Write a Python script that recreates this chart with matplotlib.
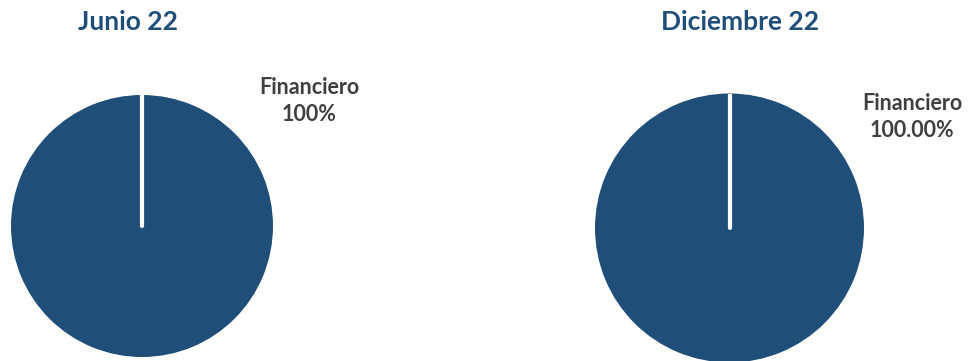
import matplotlib
matplotlib.use("Agg")
import matplotlib.pyplot as plt

# ── data ──────────────────────────────────────────────
categorias = ["Financiero"]
junio_22 = [100]
diciembre_22 = [100]
titulos = ["Junio 22", "Diciembre 22"]

plt.rcParams["font.family"] = ["Lato", "DejaVu Sans"]

W, H = 969, 361
fig = plt.figure(figsize=(W / 100, H / 100), dpi=100)

azul = "#1F4E79"
gris = "#404040"

def px_axes(cx, cy, r):
    return fig.add_axes([(cx - r) / W, (H - cy - r) / H, 2 * r / W, 2 * r / H])

# pie panels: (center x, center y, radius) in pixels
paneles = [
    (142, 226, 131, junio_22, "{:.0f}%", 309, 101, titulos[0], 128),
    (729.5, 228, 134.5, diciembre_22, "{:.2f}%", 912, 117, titulos[1], 740),
]

for cx, cy, r, vals, fmt, lx, ly, titulo, tx in paneles:
    ax = px_axes(cx, cy, r)
    wedges, _ = ax.pie(vals, colors=[azul], startangle=90, counterclock=False)
    # slice boundary (full circle wedge has no radial edge drawn)
    ax.plot([0, 0], [0, 1.02], color="white", linewidth=3.0,
            solid_capstyle="round")
    ax.set_xlim(-1, 1)
    ax.set_ylim(-1, 1)
    ax.set_aspect("auto")
    ax.axis("off")
    fig.text(lx / W, 1 - ly / H, f"{categorias[0]}\n" + fmt.format(vals[0]),
             ha="center", va="center", fontsize=15.5, fontweight="bold",
             color=gris, linespacing=1.3)
    fig.text(tx / W, 1 - 22 / H, titulo, ha="center", va="center",
             fontsize=19, fontweight="bold", color=azul)

fig.savefig("out.png", dpi=100)
